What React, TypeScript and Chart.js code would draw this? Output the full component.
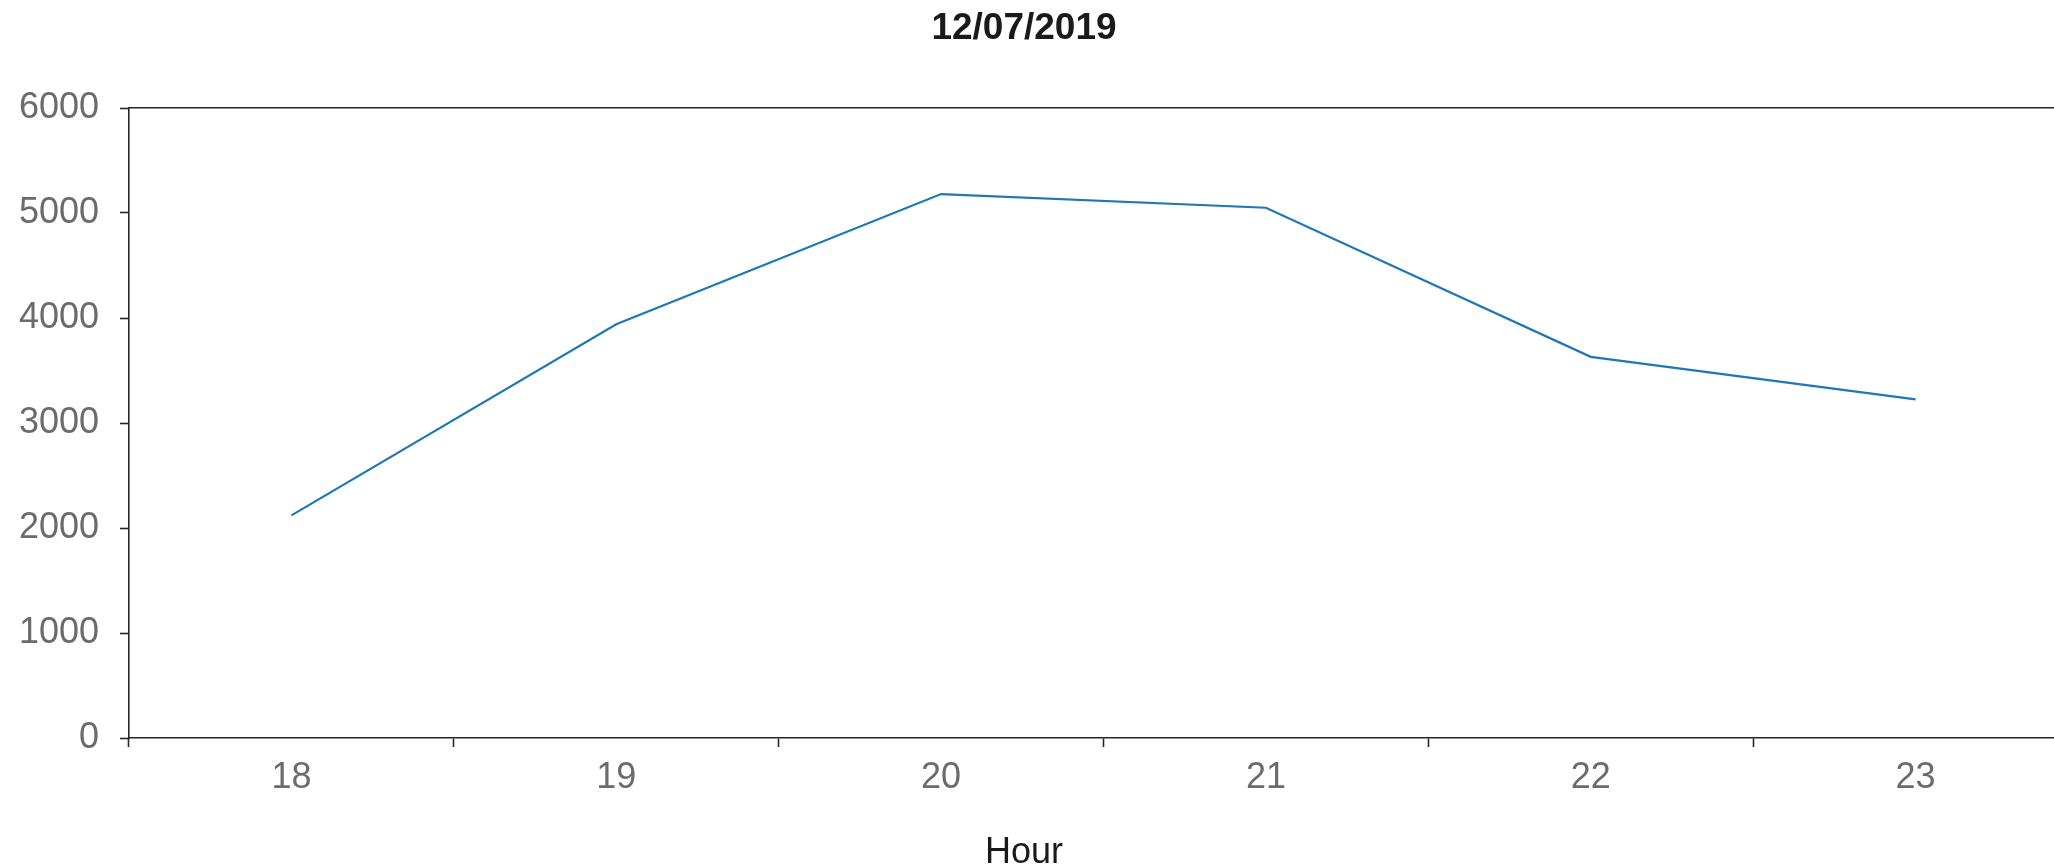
import React, { useEffect, useRef } from 'react';
import { Chart, registerables } from 'chart.js';

Chart.register(...registerables);

const chartTitle = '12/07/2019';
const xAxisTitle = 'Hour';
const hours = ['18', '19', '20', '21', '22', '23'];
const counts = [2120, 3940, 5180, 5050, 3630, 3225];
const yMin = 0;
const yMax = 6000;
const yStep = 1000;

const FONT = '"Liberation Sans", Arial, Helvetica, sans-serif';
const AXIS_COLOR = '#262626';
const TICK_COLOR = '#6b6b6b';
const TEXT_COLOR = '#1a1a1a';
const LINE_COLOR = '#1f77b4';

export default function App() {
  const canvasRef = useRef<HTMLCanvasElement>(null);

  useEffect(() => {
    const canvas = canvasRef.current;
    if (!canvas) return;
    const chart = new Chart(canvas, {
      type: 'line',
      data: {
        labels: hours,
        datasets: [
          {
            data: counts,
            borderColor: LINE_COLOR,
            backgroundColor: LINE_COLOR,
            borderWidth: 2.2,
            pointRadius: 0,
            pointHoverRadius: 0,
            fill: false,
            tension: 0,
          },
        ],
      },
      options: {
        animation: false,
        responsive: true,
        maintainAspectRatio: false,
        devicePixelRatio: 1,
        layout: { padding: 0 },
        plugins: {
          legend: { display: false },
          tooltip: { enabled: false },
          title: {
            display: true,
            text: chartTitle,
            color: TEXT_COLOR,
            font: { family: FONT, size: 37, weight: 'bold', lineHeight: 1.2 },
            padding: { top: 7, bottom: 56.6 },
          },
          subtitle: {
            display: true,
            position: 'bottom',
            text: xAxisTitle,
            color: TEXT_COLOR,
            font: { family: FONT, size: 36, weight: 'normal', lineHeight: 1.2 },
            padding: { top: 23.6, bottom: 0 },
          },
        },
        scales: {
          x: {
            type: 'category',
            position: 'bottom',
            offset: true,
            grid: {
              display: true,
              offset: true,
              drawOnChartArea: false,
              drawTicks: true,
              tickLength: 9,
              color: AXIS_COLOR,
              tickColor: AXIS_COLOR,
              tickWidth: 1.6,
            },
            border: { display: true, color: AXIS_COLOR, width: 1.6 },
            ticks: {
              color: TICK_COLOR,
              font: { family: FONT, size: 36 },
              padding: 9,
              maxRotation: 0,
              autoSkip: false,
            },
          },
          x2: {
            type: 'category',
            position: 'top',
            offset: true,
            grid: { display: false, drawTicks: false },
            border: { display: true, color: AXIS_COLOR, width: 1.6 },
            ticks: { display: false },
          },
          y: {
            min: yMin,
            max: yMax,
            grid: {
              display: true,
              drawOnChartArea: false,
              drawTicks: true,
              tickLength: 9,
              color: AXIS_COLOR,
              tickColor: AXIS_COLOR,
              tickWidth: 1.6,
            },
            border: { display: true, color: AXIS_COLOR, width: 1.6 },
            ticks: {
              stepSize: yStep,
              color: TICK_COLOR,
              font: { family: FONT, size: 36 },
              padding: 21,
              callback: (value: any) => String(value),
            },
            afterFit: (scale: any) => {
              scale.width = 159;
            },
          },
        },
      } as any,
    });
    return () => chart.destroy();
  }, []);

  return (
    <div
      style={{
        position: 'fixed',
        left: 0,
        top: 0,
        width: '2054px',
        height: '864px',
        overflow: 'hidden',
        background: '#ffffff',
      }}
    >
      <div
        style={{
          position: 'absolute',
          left: '-30px',
          top: 0,
          width: '2108px',
          height: '875px',
        }}
      >
        <canvas ref={canvasRef} />
      </div>
    </div>
  );
}
